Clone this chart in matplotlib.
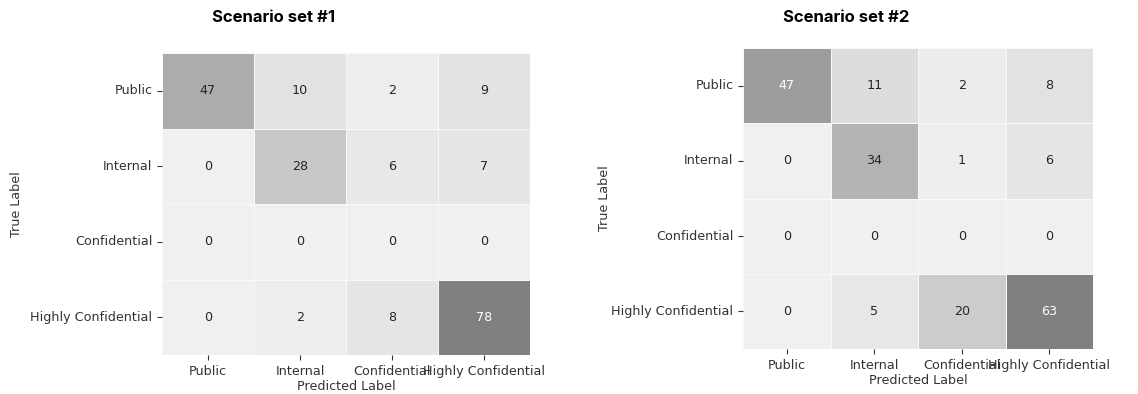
import matplotlib
matplotlib.use("Agg")
import matplotlib.pyplot as plt
import numpy as np
import seaborn as sns
from matplotlib.colors import LinearSegmentedColormap

labels = ["Public", "Internal", "Confidential", "Highly Confidential"]
set1 = [[47, 10, 2, 9],
        [0, 28, 6, 7],
        [0, 0, 0, 0],
        [0, 2, 8, 78]]
set2 = [[47, 11, 2, 8],
        [0, 34, 1, 6],
        [0, 0, 0, 0],
        [0, 5, 20, 63]]
titles = ["Scenario set #1", "Scenario set #2"]

cmap = LinearSegmentedColormap.from_list("g", ["#f0f0f0", "#808080"])
txt = "#333333"
fs = 9.2

W, H = 1138, 394
fig = plt.figure(figsize=(W / 100, H / 100), dpi=100)

boxes = [(162, 530, 53, 355), (743, 1093, 48, 349)]
title_x = [274, 846]
ylab_x = [17, 605]
xlab_y = [386, 381]
for data, (x0, x1, y0, y1), t, tx, ylx, xly in zip([set1, set2], boxes, titles, title_x, ylab_x, xlab_y):
    ax = fig.add_axes([x0 / W, 1 - y1 / H, (x1 - x0) / W, (y1 - y0) / H])
    sns.heatmap(np.array(data), ax=ax, cmap=cmap, annot=True, fmt="d", cbar=False,
                linewidths=0.6, linecolor="#f8f8f8",
                xticklabels=labels, yticklabels=labels,
                annot_kws={"fontsize": fs})
    for tt in ax.texts:
        if tt.get_color() != "w" and tt.get_color() != (1, 1, 1, 1):
            pass
    ax.set_xlabel("Predicted Label", fontsize=fs, color=txt)
    ax.set_ylabel("True Label", fontsize=fs, color=txt)
    ax.yaxis.set_label_coords((ylx - x0) / (x1 - x0), 0.5)
    ax.xaxis.set_label_coords(0.5, (y1 - xly) / (y1 - y0))
    ax.xaxis.label.set_va("center")
    ax.yaxis.label.set_va("center")
    ax.tick_params(axis="both", labelsize=fs, labelcolor=txt, color=txt)
    plt.setp(ax.get_yticklabels(), rotation=0)
    plt.setp(ax.get_xticklabels(), rotation=0)
    fig.text(tx / W, 1 - 18 / H, t, ha="center", va="center",
             fontsize=12, fontweight="bold", family=["Inter", "DejaVu Sans"])

fig.savefig("out.png", dpi=100)
